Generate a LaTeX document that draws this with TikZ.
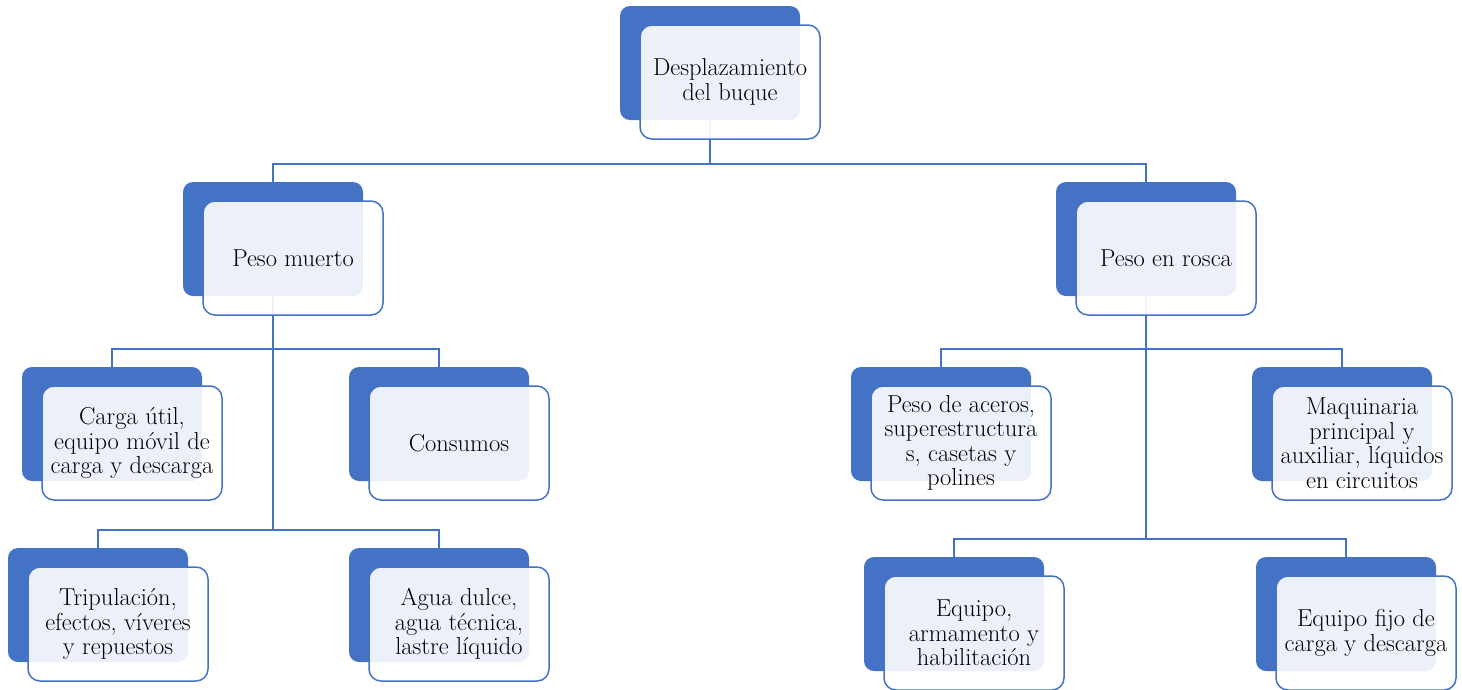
\documentclass[tikz,border=0pt]{standalone}
\usepackage{fontspec}
\usetikzlibrary{calc}
\definecolor{myblue}{HTML}{4472C4}
\begin{document}
\begin{tikzpicture}[x=1pt,y=-1pt,
  backbox/.style={rectangle, rounded corners=10pt, fill=myblue, minimum width=180pt, minimum height=114pt, inner sep=0pt},
  frontbox/.style={rectangle, rounded corners=12pt, draw=myblue, line width=1.5pt, fill=white, fill opacity=0.9, text opacity=1, text=black, minimum width=180pt, minimum height=114pt, inner sep=1pt, align=center, font=\fontsize{24.5}{24.5}\selectfont},
  conn/.style={draw=myblue, line width=1.6pt}]
\useasboundingbox (0,0) rectangle (1462,689);
% back boxes
\node[backbox] (b0) at (710,63) {};
\node[backbox] (b1) at (273,239) {};
\node[backbox] (b2) at (1146,239) {};
\node[backbox] (b11) at (112,424) {};
\node[backbox] (b12) at (439,424) {};
\node[backbox] (b13) at (98,605) {};
\node[backbox] (b14) at (439,605) {};
\node[backbox] (b21) at (941,424) {};
\node[backbox] (b22) at (1342,424) {};
\node[backbox] (b23) at (954,614) {};
\node[backbox] (b24) at (1346,614) {};
% bus levels
\coordinate (bus0) at (0,164);
\coordinate (bus1a) at (0,349);
\coordinate (bus1b) at (0,530);
\coordinate (bus2a) at (0,349);
\coordinate (bus2b) at (0,539);
% connectors
\draw[conn] (b0.south) -- (b0.south |- bus0) -| (b1.north);
\draw[conn] (b0.south |- bus0) -| (b2.north);
\draw[conn] (b1.south) -- (b1.south |- bus1b);
\draw[conn] (b1.south |- bus1a) -| (b11.north);
\draw[conn] (b1.south |- bus1a) -| (b12.north);
\draw[conn] (b1.south |- bus1b) -| (b13.north);
\draw[conn] (b1.south |- bus1b) -| (b14.north);
\draw[conn] (b2.south) -- (b2.south |- bus2b);
\draw[conn] (b2.south |- bus2a) -| (b21.north);
\draw[conn] (b2.south |- bus2a) -| (b22.north);
\draw[conn] (b2.south |- bus2b) -| (b23.north);
\draw[conn] (b2.south |- bus2b) -| (b24.north);
% front boxes
\node[frontbox] (f0) at ($(b0)+(20,19)$) {Desplazamiento\\del buque};
\node[frontbox] (f1) at ($(b1)+(20,19)$) {Peso muerto};
\node[frontbox] (f2) at ($(b2)+(20,19)$) {Peso en rosca};
\node[frontbox] (f11) at ($(b11)+(20,19)$) {Carga útil,\\equipo móvil de\\carga y descarga};
\node[frontbox] (f12) at ($(b12)+(20,19)$) {Consumos};
\node[frontbox] (f13) at ($(b13)+(20,19)$) {Tripulación,\\efectos, víveres\\y repuestos};
\node[frontbox] (f14) at ($(b14)+(20,19)$) {Agua dulce,\\agua técnica,\\lastre líquido};
\node[frontbox] (f21) at ($(b21)+(20,19)$) {Peso de aceros,\\superestructura\\s, casetas y\\polines};
\node[frontbox] (f22) at ($(b22)+(20,19)$) {Maquinaria\\principal y\\auxiliar, líquidos\\en circuitos};
\node[frontbox] (f23) at ($(b23)+(20,19)$) {Equipo,\\armamento y\\habilitación};
\node[frontbox] (f24) at ($(b24)+(20,19)$) {Equipo fijo de\\carga y descarga};
\end{tikzpicture}
\end{document}
